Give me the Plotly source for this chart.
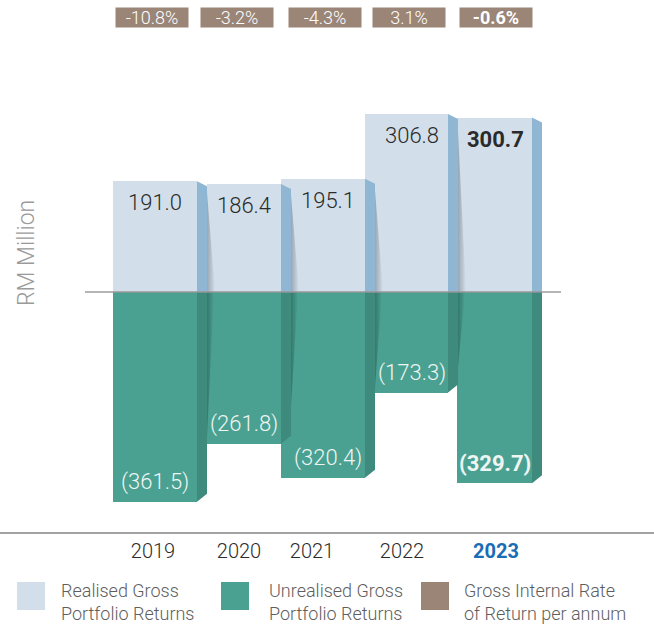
import plotly.graph_objects as go

# ---- data -------------------------------------------------------------
years = ["2019", "2020", "2021", "2022", "2023"]
realised = [191.0, 186.4, 195.1, 306.8, 300.7]          # RM million
unrealised = [-361.5, -261.8, -320.4, -173.3, -329.7]   # RM million
irr_pct = [-10.8, -3.2, -4.3, 3.1, -0.6]                # % per annum

# ---- layout geometry (x axis runs in pixel units across the page) -----
W, H = 654, 626
PLOT_BOTTOM = 532          # pixel row of the x axis line
ZERO_ROW = 292             # pixel row of the zero line
PX_PER_UNIT = 0.58         # vertical scale, pixels per RM million

bar_left = [113, 207, 281, 365, 457]
bar_right = [197, 281, 365, 448, 532]
depth = 10                 # width of the shaded side face
tick_x = [153, 239, 312, 402, 496]
irr_box_x = [152, 237, 325, 409, 496]

# ---- colours / fonts --------------------------------------------------
LIGHT = "#d2dfea"
LIGHT_SIDE = "#8fb6d3"
TEAL = "#4aa191"
TEAL_SIDE = "#3e8b7d"
BROWN = "#9b8577"
BLUE = "#1a6db4"
FONT = "Roboto, Liberation Sans, Arial, sans-serif"
LIGHT_W = 300


def units(px):
    """Convert a pixel distance into y-axis units."""
    return px / PX_PER_UNIT


centers = [(l + r) / 2 for l, r in zip(bar_left, bar_right)]
widths = [r - l for l, r in zip(bar_left, bar_right)]
last = len(years) - 1

fig = go.Figure()

# front faces
fig.add_trace(go.Bar(x=centers, y=realised, width=widths, name="Realised Gross Portfolio Returns",
                     marker=dict(color=LIGHT, line=dict(width=0)), showlegend=False, hoverinfo="skip"))
fig.add_trace(go.Bar(x=centers, y=unrealised, width=widths, name="Unrealised Gross Portfolio Returns",
                     marker=dict(color=TEAL, line=dict(width=0)), showlegend=False, hoverinfo="skip"))

# soft shadows falling onto the neighbouring bar
for i in range(last):
    r = bar_right[i] + depth
    top = min(realised[i] * 0.9, realised[i + 1])
    fig.add_trace(go.Scatter(
        x=[r, r, r + 8, r], y=[top, 0, 0, top], mode="lines", fill="toself",
        line=dict(width=0), hoverinfo="skip", showlegend=False,
        fillgradient=dict(type="horizontal",
                          colorscale=[[0, "rgba(70,80,95,0.40)"], [1, "rgba(70,80,95,0.0)"]])))
    bot = max(unrealised[i] * 0.75, unrealised[i + 1] * 0.95)
    fig.add_trace(go.Scatter(
        x=[r, r + 7, r, r], y=[0, 0, bot, 0], mode="lines", fill="toself",
        line=dict(width=0), hoverinfo="skip", showlegend=False,
        fillgradient=dict(type="horizontal",
                          colorscale=[[0, "rgba(20,60,55,0.40)"], [1, "rgba(20,60,55,0.0)"]])))

# side faces
for i in range(len(years)):
    r = bar_right[i]
    v, u = realised[i], unrealised[i]
    fig.add_trace(go.Scatter(
        x=[r, r + depth, r + depth, r, r], y=[v, v - units(5), 0, 0, v],
        mode="lines", fill="toself", fillcolor=LIGHT_SIDE, line=dict(width=0),
        hoverinfo="skip", showlegend=False))
    fig.add_trace(go.Scatter(
        x=[r, r + depth, r + depth, r, r], y=[0, 0, u + units(8), u, 0],
        mode="lines", fill="toself", fillcolor=TEAL_SIDE, line=dict(width=0),
        hoverinfo="skip", showlegend=False))

annotations = []

# value labels
for i in range(len(years)):
    cx = (max(bar_left[i], bar_right[i - 1] + depth if i else 0) + bar_right[i]) / 2
    bold = i == last
    pos_txt = f"{realised[i]:.1f}"
    neg_txt = f"({abs(unrealised[i]):.1f})"
    if bold:
        pos_txt, neg_txt = f"<b>{pos_txt}</b>", f"<b>{neg_txt}</b>"
    annotations.append(dict(x=cx, y=realised[i], xref="x", yref="y", text=pos_txt,
                            showarrow=False, yanchor="top", yshift=-7,
                            font=dict(family=FONT, size=22, color="#2b2b2b", weight=LIGHT_W)))
    annotations.append(dict(x=cx, y=unrealised[i], xref="x", yref="y", text=neg_txt,
                            showarrow=False, yanchor="bottom", yshift=5,
                            font=dict(family=FONT, size=22, color="#eef5f3", weight=LIGHT_W)))

# gross IRR boxes along the top
for i, p in enumerate(irr_pct):
    txt = f"{p:.1f}%"
    if i == last:
        txt = f"<b>{txt}</b>"
    annotations.append(dict(x=irr_box_x[i], xref="x", y=(PLOT_BOTTOM - 17.5) / PLOT_BOTTOM, yref="paper",
                            xanchor="center", yanchor="middle",
                            text=txt, showarrow=False, bgcolor=BROWN, width=70, height=17,
                            borderpad=1, align="center", valign="middle",
                            font=dict(family=FONT, size=18, color="white", weight=LIGHT_W)))

# y axis title
annotations.append(dict(x=26 / W, y=(PLOT_BOTTOM - 253) / PLOT_BOTTOM, xref="paper", yref="paper",
                        xanchor="center", yanchor="middle",
                        text="RM Million", textangle=-90, showarrow=False,
                        font=dict(family=FONT, size=23, color="#9a9a9a", weight=LIGHT_W)))

# legend
legend_items = [
    (17, 59, LIGHT, "Realised Gross<br>Portfolio Returns"),
    (221, 267, TEAL, "Unrealised Gross<br>Portfolio Returns"),
    (421, 462, BROWN, "Gross Internal Rate<br>of Return per annum"),
]
shapes = []


def py(row):
    return (PLOT_BOTTOM - row) / PLOT_BOTTOM


for sx, tx, col, label in legend_items:
    shapes.append(dict(type="rect", xref="paper", yref="paper",
                       x0=sx / W, x1=(sx + 28) / W, y0=py(610), y1=py(582),
                       fillcolor=col, line=dict(width=0)))
    annotations.append(dict(x=tx / W, y=py(602), xref="paper", yref="paper", text=label,
                            showarrow=False, xanchor="left", yanchor="middle", align="left",
                            font=dict(family=FONT, size=18, color="#5e5e5e", weight=LIGHT_W)))

# zero line
shapes.append(dict(type="line", xref="x", yref="y", x0=85, x1=561, y0=0, y1=0,
                   line=dict(color="rgba(150,150,150,0.7)", width=2), layer="above"))

ticktext = years[:-1] + [f"<b><span style='color:{BLUE}'>{years[-1]}</span></b>"]

fig.update_layout(
    width=W, height=H,
    margin=dict(l=0, r=0, t=0, b=H - PLOT_BOTTOM, pad=0),
    paper_bgcolor="white", plot_bgcolor="white",
    barmode="overlay", bargap=0,
    showlegend=False,
    xaxis=dict(range=[0, W], showgrid=False, zeroline=False, showline=True,
               linecolor="#a3a3a3", linewidth=2, ticks="", tickvals=tick_x, ticktext=ticktext,
               tickfont=dict(family=FONT, size=20, color="#2b2b2b", weight=LIGHT_W), fixedrange=True),
    yaxis=dict(range=[-units(PLOT_BOTTOM - ZERO_ROW), units(ZERO_ROW)], visible=False, fixedrange=True),
    annotations=annotations,
    shapes=shapes,
)

fig.write_html("out.html")
